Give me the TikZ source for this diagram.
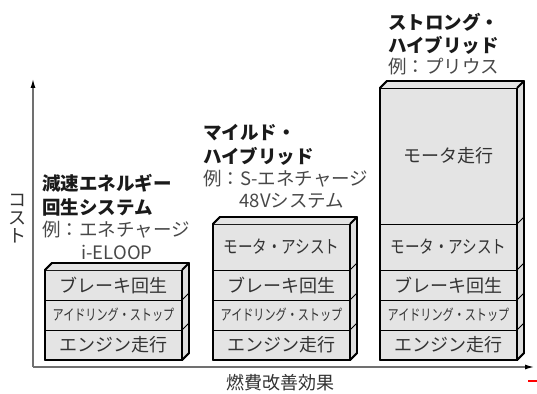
\documentclass[tikz,border=0pt]{standalone}
\usepackage{fontspec}
\setmainfont{Noto Sans CJK JP}
\usetikzlibrary{arrows.meta}
\definecolor{boxfill}{HTML}{E4E4E4}
\definecolor{sidefill}{HTML}{DEDEDE}
\definecolor{txt}{HTML}{333333}
\definecolor{headtxt}{HTML}{1A1A1A}
\definecolor{subtxt}{HTML}{484848}
\definecolor{axisgray}{HTML}{707070}
\newcommand{\cuboidframe}[3]{%
  \fill[boxfill] (#1,#2) -- ++(7,-7) -- ++(137,0) -- ++(-7,7) -- cycle;
  \fill[sidefill] (#1+137,#2) -- ++(7,-7) -- (#1+144,#3-7) -- (#1+137,#3) -- cycle;
  \draw[outer] (#1,#2) -- ++(7,-7) -- ++(137,0) -- (#1+144,#3-7) -- (#1+137,#3) -- (#1,#3) -- cycle;
  \draw[outer] (#1+137,#2) -- ++(7,-7);
  \draw[outer] (#1+137,#2) -- (#1+137,#3);
}
\newcommand{\sidetick}[2]{\draw[inner] (#1+137,#2) -- ++(7,-7);}
\begin{document}
\begin{tikzpicture}[x=1pt,y=-1pt,
  outer/.style={line width=1.8pt,line join=round,draw=black},
  inner/.style={line width=0.9pt,draw=black},
  row/.style={draw=black,line width=0.9pt,fill=boxfill,minimum width=137pt,inner sep=0pt,text=txt,font=\fontsize{18}{18}\selectfont},
  narrow/.style={row,font=\fontsize{15}{15}\selectfont},
  head/.style={anchor=west,inner sep=0pt,text=headtxt,font=\bfseries\fontsize{18.5}{18.5}\selectfont},
  sub/.style={anchor=west,inner sep=0pt,text=subtxt,font=\fontsize{18.5}{18.5}\selectfont},
  subc/.style={inner sep=0pt,text=subtxt,font=\fontsize{18.5}{18.5}\selectfont},
  axislabel/.style={inner sep=0pt,text=txt,font=\fontsize{18}{18}\selectfont},
  axisline/.style={draw=axisgray,line width=1.2pt,-{Latex[length=9pt,width=5pt,color=black]}}
]
\useasboundingbox (0,0) rectangle (537,393);

% axes
\coordinate (origin) at (33,367);
\coordinate (ytip) at (33,79);
\coordinate (xtip) at (534,367);
\draw[axisline] (origin) -- (ytip);
\draw[axisline] (origin) -- (xtip);
\node[axislabel,align=center] (ylab) at (18,219) {コ\\[0pt]ス\\[0pt]ト};
\node[axislabel] (xlab) at (280,383) {燃費改善効果};
\draw[red,line width=1.5pt] (528,381) -- (537,381);

% box 1
\cuboidframe{45}{270}{360}
\node[row,minimum height=30pt] (b1r3) at (113.5,285) {ブレーキ回生};
\node[narrow,minimum height=30pt] (b1r2) at (113.5,315) {\scalebox{0.74}[1]{アイドリング・ストップ}};
\node[row,minimum height=30pt] (b1r1) at (113.5,345) {エンジン走行};
\cuboidframe{45}{270}{360}
\sidetick{45}{300}
\sidetick{45}{330}

% box 2
\cuboidframe{213}{224}{360}
\node[row,minimum height=46pt] (b2r4) at (281.5,247) {\scalebox{0.81}[1]{モータ・アシスト}};
\node[row,minimum height=30pt] (b2r3) at (281.5,285) {ブレーキ回生};
\node[narrow,minimum height=30pt] (b2r2) at (281.5,315) {\scalebox{0.74}[1]{アイドリング・ストップ}};
\node[row,minimum height=30pt] (b2r1) at (281.5,345) {エンジン走行};
\cuboidframe{213}{224}{360}
\sidetick{213}{270}
\sidetick{213}{300}
\sidetick{213}{330}

% box 3
\cuboidframe{380}{88}{360}
\node[row,minimum height=136pt] (b3r5) at (448.5,156) {モータ走行};
\node[row,minimum height=46pt] (b3r4) at (448.5,247) {\scalebox{0.81}[1]{モータ・アシスト}};
\node[row,minimum height=30pt] (b3r3) at (448.5,285) {ブレーキ回生};
\node[narrow,minimum height=30pt] (b3r2) at (448.5,315) {\scalebox{0.74}[1]{アイドリング・ストップ}};
\node[row,minimum height=30pt] (b3r1) at (448.5,345) {エンジン走行};
\cuboidframe{380}{88}{360}
\sidetick{380}{224}
\sidetick{380}{270}
\sidetick{380}{300}
\sidetick{380}{330}

% headings
\node[head] (h1a) at (42,183) {減速エネルギー};
\node[head] (h1b) at (42,207) {回生システム};
\node[sub] (h1c) at (42,230) {例：エネチャージ};
\node[subc] (h1d) at (117,252) {i-ELOOP};

\node[head] (h2a) at (203,133) {マイルド・};
\node[head] (h2b) at (203,156) {ハイブリッド};
\node[sub] (h2c) at (203,179) {例：S-エネチャージ};
\node[subc] (h2d) at (292,201) {48Vシステム};

\node[head] (h3a) at (388,22) {ストロング・};
\node[head] (h3b) at (388,45) {ハイブリッド};
\node[sub] (h3c) at (388,67) {例：プリウス};
\end{tikzpicture}
\end{document}
